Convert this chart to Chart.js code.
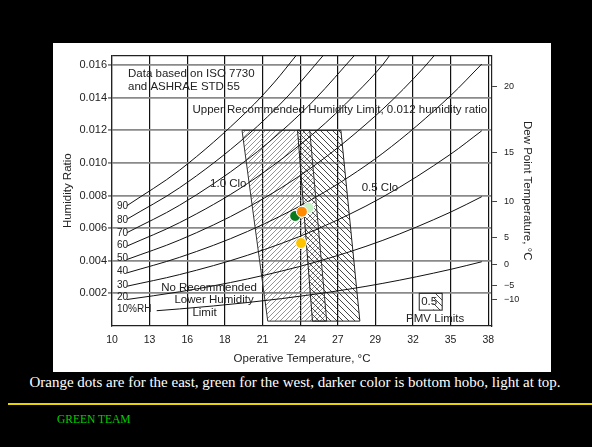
<!DOCTYPE html>
<html><head><meta charset="utf-8">
<script src="https://cdn.jsdelivr.net/npm/chart.js@4.4.0/dist/chart.umd.min.js"></script>
<style>
html,body{margin:0;padding:0;background:#000;width:592px;height:447px;overflow:hidden;}
#wrap{position:absolute;left:53px;top:43px;width:498px;height:329px;background:#fff;}
#caption{position:absolute;left:0;width:590px;top:374px;text-align:center;color:#fff;font:15px "Liberation Serif",serif;line-height:17px;white-space:nowrap;}
#rule{position:absolute;left:8px;top:403px;width:584px;height:2px;background:#e6d300;}
#team{position:absolute;left:57px;top:412px;color:#00cc00;font:11.5px "Liberation Serif",serif;line-height:14px;}
</style></head>
<body>
<div id="wrap"><canvas id="c"></canvas></div>
<div id="caption">Orange dots are for the east, green for the west, darker color is bottom hobo, light at top.</div>
<div id="rule"></div>
<div id="team">GREEN TEAM</div>
<script>
// ---- axis ticks ----
const xTickF = [50,55,60,65,70,75,80,85,90,95,100];
const xTickLabels = ['10','13','16','18','21','24','27','29','32','35','38'];
const yTicks = [0.002,0.004,0.006,0.008,0.010,0.012,0.014,0.016];
const dewPointLabels = ['20','15','10','5','0','\u22125','\u221210'];
const dewPointW = [0.01470,0.01064,0.00763,0.00540,0.00377,0.00248,0.00160];

// ---- relative humidity curves (temperature °C, humidity ratio) ----
const rh10T = [13.3,15,20,25,30,35,37.3];
const rh10W = [0.000939,0.001048,0.001439,0.001951,0.002617,0.003474,0.003941];
const rh20T = [11.1,15,20,25,30,35,37.3];
const rh20W = [0.001625,0.002100,0.002885,0.003915,0.005257,0.006987,0.007933];
const rh30T = [11.1,15,20,25,30,35,37.3];
const rh30W = [0.002440,0.003156,0.004338,0.005891,0.007919,0.010540,0.011976];
const rh40T = [11.1,15,20,25,30,35,37.3];
const rh40W = [0.003258,0.004215,0.005797,0.007880,0.010603,0.014133,0.016071];
const rh50T = [11.1,15,20,25,30,33,33.8];
const rh50W = [0.004078,0.005278,0.007263,0.009881,0.013311,0.015832,0.0166];
const rh60T = [11.1,15,20,25,28,30,30.5];
const rh60W = [0.004900,0.006344,0.008736,0.011895,0.014249,0.016042,0.0166];
const rh70T = [11.1,15,20,23,25,27.9];
const rh70W = [0.005724,0.007414,0.010216,0.012314,0.013922,0.0166];
const rh80T = [11.1,15,20,23,25.6];
const rh80W = [0.006551,0.008487,0.011703,0.014113,0.0166];
const rh90T = [11.1,15,20,22,23.6];
const rh90W = [0.007379,0.009565,0.013197,0.014965,0.0166];
const rhLabels = ['90','80','70','60','50','40','30','20','10%RH'];

// ---- comfort zones (°C, humidity ratio) ----
const winterZoneT = [19.6,24.6,25.85,21.5,19.6];
const winterZoneW = [0.012,0.012,0.0003,0.0003,0.012];
const summerZoneT = [23.7,26.9,28.3,24.8,23.7];
const summerZoneW = [0.012,0.012,0.0003,0.0003,0.012];

// ---- measured points (°C, humidity ratio) ----
const eastBottom = [24.02, 0.00701];
const eastTop    = [23.96, 0.00509];
const westBottom = [23.52, 0.00675];
const westTop    = [24.50, 0.00725];

const cToF = c => c*9/5+32;
const pts = (T,W) => T.map((t,i)=>({x:cToF(t), y:W[i]}));

function hatch(size, dir, color, w){
  const cv=document.createElement('canvas'); cv.width=size; cv.height=size;
  const g=cv.getContext('2d'); g.strokeStyle=color; g.lineWidth=w; g.beginPath();
  if(dir>0){ g.moveTo(0,size); g.lineTo(size,0); g.moveTo(-1,1); g.lineTo(1,-1); g.moveTo(size-1,size+1); g.lineTo(size+1,size-1); }
  else { g.moveTo(0,0); g.lineTo(size,size); g.moveTo(size-1,-1); g.lineTo(size+1,1); g.moveTo(-1,size-1); g.lineTo(1,size+1); }
  g.stroke();
  return g.createPattern(cv,'repeat');
}
const ctx=document.getElementById('c').getContext('2d');
const winterPat = hatch(5, 1, '#7a7a7a', 0.8);
const summerPat = hatch(6, -1, '#333', 0.9);

const FONT = 'Liberation Sans, Arial, sans-serif';
const rhSets = [[rh10T,rh10W],[rh20T,rh20W],[rh30T,rh30W],[rh40T,rh40W],[rh50T,rh50W],[rh60T,rh60W],[rh70T,rh70W],[rh80T,rh80W],[rh90T,rh90W]];

const datasets = [];
function dot(p, color){
  return {data:[{x:cToF(p[0]),y:p[1]}], showLine:false, pointRadius:5.5, pointBackgroundColor:color, pointBorderColor:'#fff', pointBorderWidth:1, order:0};
}
datasets.push(dot(eastBottom,'#ff8a00'));
datasets.push(dot(eastTop,'#ffc400'));
datasets.push(dot(westBottom,'#0b7a1e'));
datasets.push(dot(westTop,'#c6f2c6'));
rhSets.forEach(s=>datasets.push({data:pts(s[0],s[1]), borderColor:'#111', borderWidth:1, pointRadius:0, fill:false, cubicInterpolationMode:'monotone', order:1}));
datasets.push({data:pts(summerZoneT,summerZoneW), borderColor:'#222', borderWidth:1, pointRadius:0, tension:0, fill:'shape', backgroundColor:summerPat, order:2});
datasets.push({data:pts(winterZoneT,winterZoneW), borderColor:'#333', borderWidth:1, pointRadius:0, tension:0, fill:'shape', backgroundColor:winterPat, order:3});

const texts = [
  {t:'Data based on ISO 7730', x:52.13, y:0.015445, a:'left'},
  {t:'and ASHRAE STD 55', x:52.13, y:0.014685, a:'left'},
  {t:'Upper Recommended Humidity Limit, 0.012 humidity ratio', x:60.7, y:0.013286, a:'left'},
  {t:'1.0 Clo', x:63.03, y:0.008695, a:'left'},
  {t:'0.5 Clo', x:83.18, y:0.008452, a:'left'},
  {t:'No Recommended', x:62.9, y:0.002311, a:'center'},
  {t:'Lower Humidity', x:63.56, y:0.001611, a:'center'},
  {t:'Limit', x:62.3, y:0.000790, a:'center'},
  {t:'PMV Limits', x:92.95, y:0.000456, a:'center'},
  {t:'0.5', x:92.15, y:0.001459, a:'center'}
];
const rhLabelY = [0.007358,0.006506,0.005716,0.004925,0.004135,0.003375,0.002523,0.001763,0.001003];

const annot = {
  id:'annot',
  afterDatasetsDraw(chart){
    const c=chart.ctx, xs=chart.scales.x, ys=chart.scales.y;
    c.save();
    const bx0=xs.getPixelForValue(90.83), bx1=xs.getPixelForValue(93.88);
    const by0=ys.getPixelForValue(0.002007), by1=ys.getPixelForValue(0.000973);
    c.save(); c.beginPath(); c.rect(bx0+(bx1-bx0)*0.62,by0,(bx1-bx0)*0.38,by1-by0); c.fillStyle=summerPat; c.fill(); c.restore();
    c.strokeStyle='#222'; c.lineWidth=1; c.strokeRect(bx0,by0,bx1-bx0,by1-by0);
    c.fillStyle='#222'; c.textBaseline='middle';
    c.font='11.5px '+FONT;
    texts.forEach(o=>{ c.textAlign=o.a; c.fillText(o.t, xs.getPixelForValue(o.x), ys.getPixelForValue(o.y)); });
    c.font='10px '+FONT; c.textAlign='left';
    rhLabels.forEach((l,i)=>c.fillText(l, xs.getPixelForValue(50.66), ys.getPixelForValue(rhLabelY[i])));
    c.restore();
  }
};

new Chart(ctx,{
  type:'line',
  data:{datasets},
  options:{
    responsive:true, maintainAspectRatio:false, animation:false,
    layout:{padding:{top:10,left:0,right:0,bottom:0}},
    plugins:{legend:{display:false}, tooltip:{enabled:false}},
    scales:{
      x:{type:'linear', min:50, max:100.5, position:'bottom',
        afterBuildTicks:s=>{s.ticks=xTickF.map(v=>({value:v}));},
        afterFit:s=>{s.height=46;},
        ticks:{autoSkip:false, maxRotation:0, padding:8, color:'#222', font:{family:FONT,size:10.5},
          callback:v=>{const i=xTickF.indexOf(v); return i>=0?xTickLabels[i]:'';}},
        grid:{color:'#111', lineWidth:1.2, drawTicks:false},
        border:{display:true, color:'#222', width:1.2},
        title:{display:true, text:'Operative Temperature, \u00B0C', color:'#222', font:{family:FONT,size:11.5}, padding:{top:0,bottom:6}}
      },
      y:{type:'linear', min:0, max:0.0166, position:'left',
        afterBuildTicks:s=>{s.ticks=yTicks.concat([0.0166]).map(v=>({value:v}));},
        afterFit:s=>{s.width=59;},
        ticks:{autoSkip:false, padding:1, color:'#222', font:{family:FONT,size:11},
          callback:v=>yTicks.includes(v)?v.toFixed(3):''},
        grid:{color:c=>c.tick&&c.tick.value===0.0166?'#222':'#8a8a8a', lineWidth:c=>c.tick&&c.tick.value===0.0166?1.2:1.8, tickLength:4,
          tickColor:c=>c.tick&&c.tick.value===0.0166?'rgba(0,0,0,0)':'#8a8a8a'},
        border:{display:true, color:'#222', width:1.2},
        title:{display:true, text:'Humidity Ratio', color:'#222', font:{family:FONT,size:11.5}, padding:{top:8,bottom:0}}
      },
      y2:{type:'linear', min:0, max:0.0166, position:'right',
        afterBuildTicks:s=>{s.ticks=dewPointW.map(v=>({value:v}));},
        afterFit:s=>{s.width=59;},
        ticks:{autoSkip:false, padding:7, color:'#222', font:{family:FONT,size:9},
          callback:v=>{const i=dewPointW.indexOf(v); return i>=0?dewPointLabels[i]:'';}},
        grid:{drawOnChartArea:false, tickLength:5, color:'#444', lineWidth:1},
        border:{display:true, color:'#222', width:1.2},
        title:{display:true, text:'Dew Point Temperature, \u00B0C', color:'#222', font:{family:FONT,size:11.5}, padding:{top:17,bottom:0}}
      }
    }
  },
  plugins:[annot]
});
</script>
</body></html>
